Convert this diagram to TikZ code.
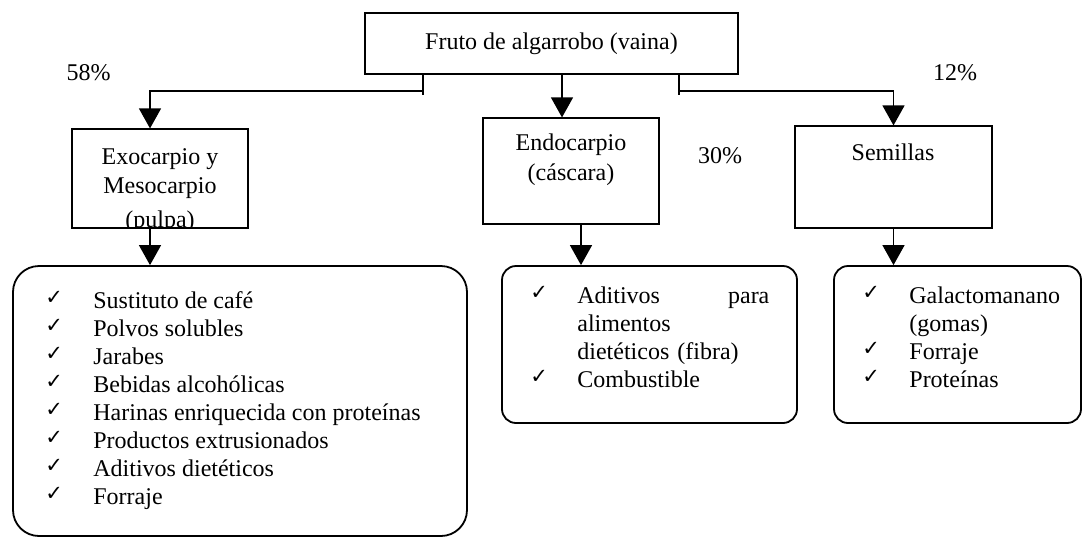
\documentclass[tikz,border=0pt]{standalone}
\usepackage{fontspec}
\setmainfont{Liberation Serif}
\newfontfamily\chkfont{DejaVu Sans}
\usetikzlibrary{arrows.meta}

\tikzset{
  caja/.style={draw, line width=0.6pt, inner sep=0pt},
  usos/.style={draw, line width=0.9pt, rounded corners=7pt, inner sep=0pt},
  linea/.style={line width=0.65pt},
  flecha/.style={line width=0.65pt, -{Triangle[length=10pt,width=11pt]}},
  texto/.style={inner sep=0pt, anchor=base},
  uso/.style={inner sep=0pt, anchor=base west, align=left},
  chk/.style={inner sep=0pt, anchor=base west, font=\chkfont\fontsize{10.5}{11}\selectfont},
}

\begin{document}
\begin{tikzpicture}[x=0.5pt,y=-0.5pt,font=\fontsize{12}{14}\selectfont]
\useasboundingbox (0,0) rectangle (1083,538);

\node[caja, minimum width=186.5pt, minimum height=30.5pt] (fruto) at (551.5,43.5) {Fruto de algarrobo (vaina)};
\node[caja, minimum width=88pt, minimum height=49.5pt] (exo) at (160,178.5) {};
\node[caja, minimum width=88pt, minimum height=53pt] (endo) at (571,171) {};
\node[caja, minimum width=98.5pt, minimum height=51pt] (sem) at (893.5,177) {};

\begin{scope}
\clip (exo.south west) rectangle (exo.north east);
\node[texto] (exo1) at (160,164) {Exocarpio y};
\node[texto] (exo2) at (160,193.5) {Mesocarpio};
\node[texto] (exo3) at (160,227.5) {(pulpa)};
\end{scope}
\node[texto] (endo1) at (571,150) {Endocarpio};
\node[texto] (endo2) at (571,180) {(cáscara)};
\node[texto] (sem1) at (893,160) {Semillas};

\node[texto] (p58) at (88.5,80) {58\%};
\node[texto] (p30) at (720,163) {30\%};
\node[texto] (p12) at (955,80) {12\%};

\node[usos, rounded corners=13pt, minimum width=227pt, minimum height=135pt] (usopulpa) at (240,401) {};
\node[usos, minimum width=147.5pt, minimum height=78.5pt] (usoendo) at (649.5,344.5) {};
\node[usos, minimum width=123.5pt, minimum height=78.5pt] (usosem) at (957.5,344.5) {};

\foreach \txt [count=\i] in {Sustituto de café, Polvos solubles, Jarabes, Bebidas alcohólicas,
  Harinas enriquecida con proteínas, Productos extrusionados, Aditivos dietéticos, Forraje}{
  \node[chk] (chkp\i) at (45,{304+28*(\i-1)}) {✓};
  \node[uso] (usop\i) at (93,{308+28*(\i-1)}) {\txt};
}
\foreach \ck/\txt [count=\i] in {✓/{Aditivos\hfill para}, {}/alimentos, {}/{dietéticos (fibra)}, ✓/Combustible}{
  \node[chk] (chke\i) at (530,{299+28*(\i-1)}) {\ck};
  \node[uso, text width=96pt] (usoe\i) at (577,{303+28*(\i-1)}) {\txt};
}
\foreach \ck/\txt [count=\i] in {✓/Galactomanano, {}/(gomas), ✓/Forraje, ✓/Proteínas}{
  \node[chk] (chks\i) at (862,{299+28*(\i-1)}) {\ck};
  \node[uso] (usos\i) at (909,{303+28*(\i-1)}) {\txt};
}

\coordinate (izq) at (423,91);
\coordinate (der) at (679,91);
\coordinate (endoin) at ([xshift=-4.5pt]endo.north);
\coordinate (exoout) at ([xshift=-5pt]exo.south);
\coordinate (endoout) at ([xshift=5pt]endo.south);

\draw[linea] (fruto.south -| izq) -- ([yshift=-2pt]izq);
\draw[flecha] (izq) -| ([xshift=-5pt]exo.north);
\draw[flecha] (fruto.south -| endoin) -- (endoin);
\draw[linea] (fruto.south -| der) -- ([yshift=-2pt]der);
\draw[flecha] (der) -| (sem.north);

\draw[flecha] (exoout) -- (exoout |- usopulpa.north);
\draw[flecha] (endoout) -- (endoout |- usoendo.north);
\draw[flecha] (sem.south) -- (sem.south |- usosem.north);

\end{tikzpicture}
\end{document}
